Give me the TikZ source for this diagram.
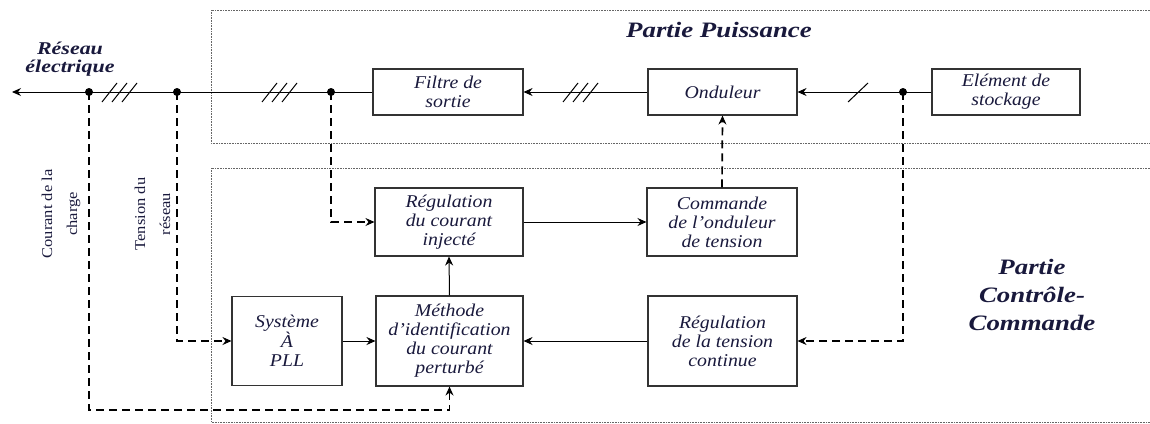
\documentclass[tikz,border=0pt]{standalone}
\usepackage{fontspec}
\setmainfont{Liberation Serif}
\newfontfamily\boxfont{Liberation Serif}[FakeStretch=1.1]
\newfontfamily\ttlfont{Liberation Serif}[FakeStretch=1.22]
\usetikzlibrary{arrows.meta}
\definecolor{txt}{RGB}{25,25,60}
\tikzset{
  blk/.style={draw=black!80, line width=1.1pt, align=center, inner sep=1pt, text=txt,
    font=\boxfont\fontsize{18}{19}\selectfont\itshape},
  arr/.style={line width=1pt, -{Stealth[length=9pt,width=8pt,inset=3pt]}},
  dsh/.style={line width=1.7pt, dash pattern=on 8pt off 5pt},
  dsharr/.style={dsh, -{Stealth[length=9pt,width=8pt,inset=3pt,line width=1pt]}},
  dotbox/.style={draw=black!60, line width=0.6pt, densely dotted},
  junc/.style={circle, fill=black, inner sep=0pt, minimum size=8pt},
  slash/.style={line width=1pt},
  ttl/.style={text=txt, align=center},
  lbl/.style={text=txt, font=\boxfont\fontsize{15}{25}\selectfont, align=center},
}
\begin{document}
\begin{tikzpicture}[x=1pt,y=-1pt]
\useasboundingbox (0,0) rectangle (1150,423);
% dotted regions
\draw[dotbox] (1150,10) -- (211,10) -- (211,143) -- (1150,143);
\draw[dotbox] (1150,168) -- (211,168) -- (211,422) -- (1150,422);
% blocks
\node[blk, minimum width=150pt, minimum height=46pt] (filtre) at (448,92) {Filtre de\\sortie};
\node[blk, minimum width=149pt, minimum height=46pt] (ond) at (722.5,92) {Onduleur};
\node[blk, minimum width=148pt, minimum height=46pt] (elem) at (1006,92) {Elément de\\stockage};
\node[blk, minimum width=148pt, minimum height=68pt] (regc) at (449,222) {Régulation\\du courant\\injecté};
\node[blk, minimum width=150pt, minimum height=68pt] (cmd) at (722,222) {Commande\\de l’onduleur\\de tension};
\node[blk, minimum width=147pt, minimum height=90pt] (meth) at (449.5,341) {Méthode\\d’identification\\du courant\\perturbé};
\node[blk, minimum width=149pt, minimum height=90pt] (regt) at (722.5,341) {Régulation\\de la tension\\continue};
\node[blk, minimum width=110pt, minimum height=89pt] (pll) at (287,341) {Système\\À\\PLL};
% coordinates
\coordinate (lend) at (12,92);
\coordinate (d1) at (89,92);
\coordinate (d2) at (177,92);
\coordinate (d3) at (331,92);
\coordinate (d4) at (903,92);
\coordinate (c1) at (89,410);
% power line
\draw[arr] (filtre.west) -- (lend);
\draw[arr] (ond.west) -- (filtre.east);
\draw[arr] (elem.west) -- (ond.east);
% slashes
\foreach \x in {102,112,122} \draw[slash] (\x,102) -- (\x+15,83);
\foreach \x in {262,272,282} \draw[slash] (\x,102) -- (\x+15,83);
\foreach \x in {563,573,583} \draw[slash] (\x,102) -- (\x+15,83);
\draw[slash] (848,102) -- (868,83);
% measurement dashed lines
\draw[dsharr] (d1) -- (c1) -| (meth.south);
\draw[dsharr] (d2) |- (pll.west);
\draw[dsharr] (d3) |- (regc.west);
\draw[dsharr] (d4) |- (regt.east);
\draw[dsharr] (cmd.north) -- (ond.south);
% junction dots
\foreach \p in {d1,d2,d3,d4} \node[junc] at (\p) {};
% control arrows
\draw[arr] (regc.east) -- (cmd.west);
\draw[arr] (meth.north) -- (regc.south);
\draw[arr] (pll.east) -- (meth.west);
\draw[arr] (regt.west) -- (meth.east);
% labels
\node[ttl, font=\ttlfont\fontsize{18}{18}\selectfont\bfseries\itshape] (res) at (70,59) {Réseau\\électrique};
\node[ttl, font=\ttlfont\fontsize{22}{26}\selectfont\bfseries\itshape] (pp) at (719,30) {Partie Puissance};
\node[ttl, font=\ttlfont\fontsize{22}{28}\selectfont\bfseries\itshape] (pcc) at (1032,295) {Partie\\Contrôle-\\Commande};
\node[lbl, rotate=90] (cour) at (61,214) {Courant de la\\charge};
\node[lbl, rotate=90] (tens) at (152.5,214) {Tension du\\réseau};
\end{tikzpicture}
\end{document}
